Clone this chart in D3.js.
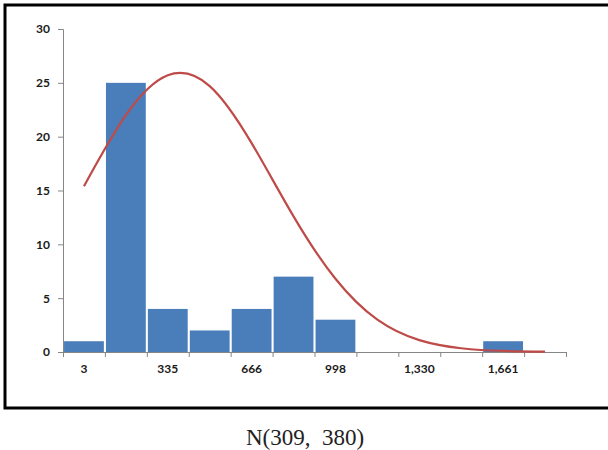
<!DOCTYPE html>
<html><head><meta charset="utf-8">
<script src="https://cdn.jsdelivr.net/npm/d3@7"></script>
<style>body{margin:0;background:#fff}svg{display:block}</style>
</head><body>
<script>
// Bin labels (every other bin labelled)
const bins = ["3","169","335","500","666","832","998","1164","1330","1495","1661","1827"];
const binLabels = ["3","","335","","666","","998","","1,330","","1,661",""];
const counts = [1,25,4,2,4,7,3,0,0,0,1,0];
// Fitted normal curve values read at each bin center
const curve = [15.4,22.0,25.7,24.7,19.4,12.6,6.8,3.0,1.1,0.35,0.1,0.03];
const yTicks = [0,5,10,15,20,25,30];
const caption = "N(309,\u00a0\u00a0380)";

const W=608,H=450;
const svg=d3.select("body").append("svg").attr("width",W).attr("height",H);
const m={l:63,r:566,t:29,b:352};
const x=d3.scaleBand().domain(bins).range([m.l,m.r]).paddingInner(0.05).paddingOuter(0.025);
const y=d3.scaleLinear().domain([0,30]).range([m.b,m.t]);

// frame
svg.append("path").attr("d",`M${W+5},5 L5,5 L5,408 L${W+5},408`)
  .attr("fill","none").attr("stroke","#000").attr("stroke-width",3);

// bars
svg.selectAll("rect.bar").data(counts).join("rect")
  .attr("x",(d,i)=>x(bins[i])).attr("width",x.bandwidth())
  .attr("y",d=>y(d)).attr("height",d=>y(0)-y(d)).attr("fill","#4a7ebb");

// y axis
const ya=svg.append("g").attr("transform",`translate(${m.l},0)`)
  .call(d3.axisLeft(y).tickValues(yTicks).tickSize(5).tickPadding(8));
ya.select(".domain").attr("stroke","#868686");
ya.selectAll(".tick line").attr("stroke","#868686");
ya.selectAll("text").attr("font-family","Lato, 'Open Sans', sans-serif").attr("font-weight","bold")
  .attr("font-size",12).attr("fill","#1a1a1a");

// x axis
const xs=d3.scaleLinear().domain([0,bins.length]).range([m.l,m.r]);
const xa=svg.append("g").attr("transform",`translate(0,${m.b})`)
  .call(d3.axisBottom(xs).tickValues(d3.range(0,bins.length+1)).tickSize(5).tickFormat(""));
xa.select(".domain").attr("stroke","#868686");
xa.selectAll(".tick line").attr("stroke","#868686");
svg.append("g").selectAll("text").data(binLabels).join("text")
  .attr("x",(d,i)=>x(bins[i])+x.bandwidth()/2).attr("y",m.b+21)
  .attr("text-anchor","middle").attr("font-family","Lato, 'Open Sans', sans-serif")
  .attr("font-weight","bold").attr("font-size",12).attr("fill","#1a1a1a").text(d=>d);

// normal curve
const line=d3.line().x((d,i)=>x(bins[i])+x.bandwidth()/2).y(d=>y(d)).curve(d3.curveNatural);
svg.append("path").datum(curve).attr("d",line).attr("fill","none")
  .attr("stroke","#be4b48").attr("stroke-width",2.2);

// caption
svg.append("text").attr("x",305).attr("y",445).attr("text-anchor","middle")
  .attr("font-family","'Liberation Serif', 'DejaVu Serif', serif").attr("font-size",23)
  .attr("fill","#222").text(caption);
</script>
</body></html>
